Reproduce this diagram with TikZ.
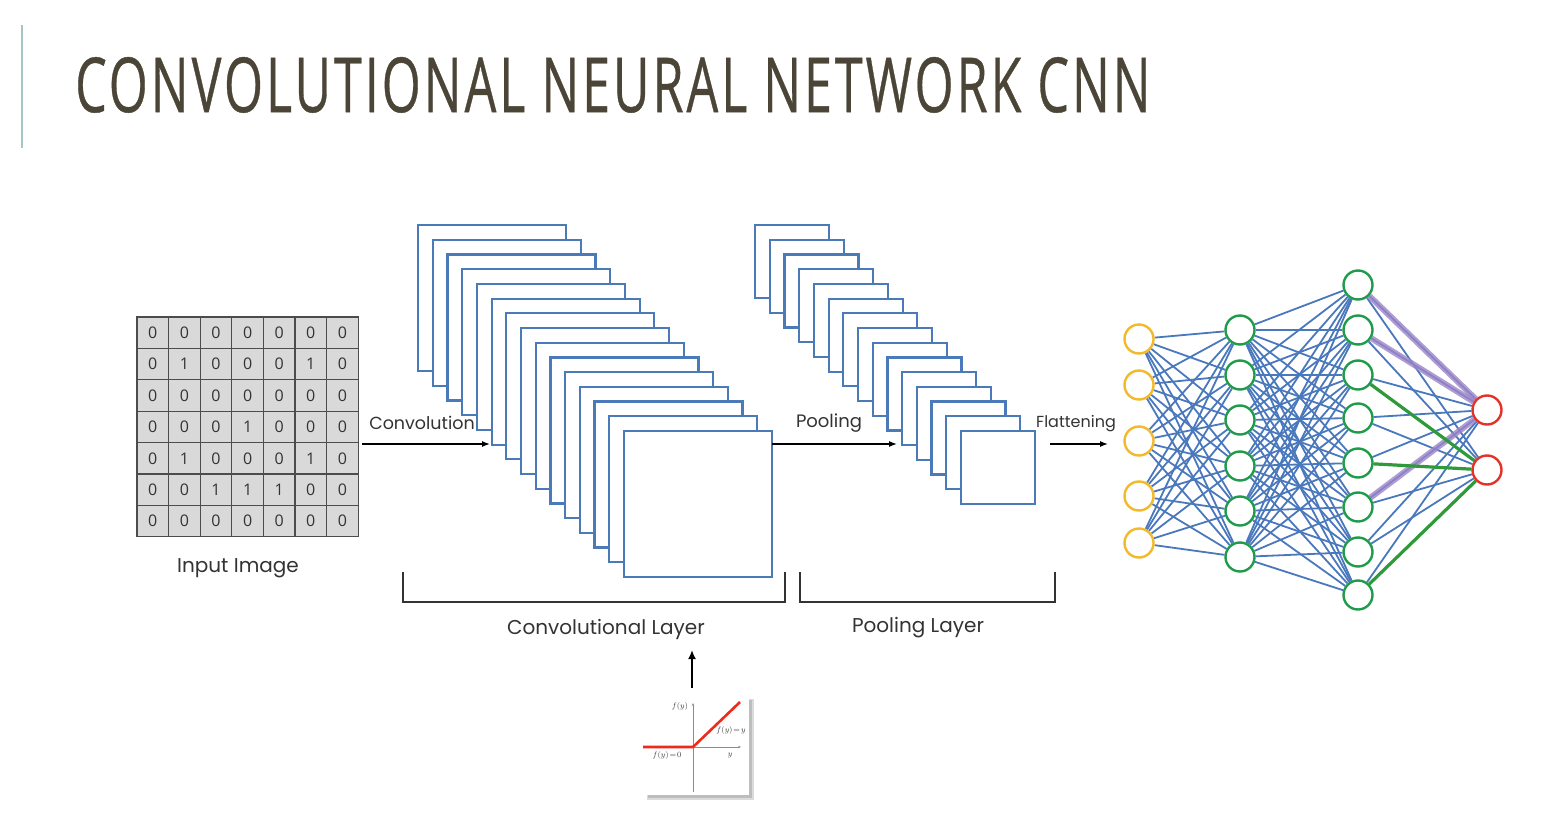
\documentclass[tikz,border=0pt]{standalone}
\usepackage{graphicx}
\usepackage{fontspec}
\setmainfont{Poppins}
\newfontfamily\titlefont[LetterSpace=6,FakeBold=0.6]{Open Sans}
\newfontfamily\digitfont{Open Sans}
\usetikzlibrary{arrows.meta}
\definecolor{titlecol}{HTML}{4A4536}
\definecolor{barcol}{HTML}{A7C4C8}
\definecolor{fmblue}{HTML}{4A7AB8}
\definecolor{edgeblue}{HTML}{4A78BC}
\definecolor{nyellow}{HTML}{F2B92A}
\definecolor{ngreen}{HTML}{1F9B4B}
\definecolor{nred}{HTML}{E53228}
\definecolor{epurple}{HTML}{9C84C9}
\definecolor{egreen}{HTML}{2E9A3A}
\definecolor{cellgray}{HTML}{D9D9D9}
\definecolor{txt}{HTML}{333333}
\definecolor{relured}{HTML}{EE2A1C}
\pgfdeclarelayer{bg}
\pgfsetlayers{bg,main}
\tikzset{
  cell/.style={draw=black!70, fill=cellgray, line width=1.2pt, minimum width=31.6pt, minimum height=31.4pt, inner sep=0pt, font=\digitfont\fontsize{16}{16}\selectfont, text=txt},
  fmap/.style={draw=fmblue, fill=white, line width=2.2pt, inner sep=0pt, anchor=north west},
  lbl/.style={text=txt, inner sep=0pt},
  arr/.style={line width=1.3pt, -{Latex[length=8pt,width=6pt]}},
  bracket/.style={line width=1.5pt, draw=black!80},
  neuron/.style={circle, fill=white, line width=2.4pt, minimum size=29pt, inner sep=0pt},
  inn/.style={neuron, draw=nyellow},
  hid/.style={neuron, draw=ngreen},
  outn/.style={neuron, draw=nred},
  edge/.style={draw=edgeblue, line width=1.8pt},
  pedge/.style={draw=epurple, line width=6pt, opacity=0.8},
  gedge/.style={draw=egreen, line width=3.2pt},
  small/.style={inner sep=0pt, font=\fontsize{8.5}{8.5}\selectfont, text=black!75}
}
\begin{document}
\begin{tikzpicture}[x=1pt,y=-1pt]
\useasboundingbox (0,0) rectangle (1555,819);
\begin{pgfonlayer}{bg}
\fill[white] (0,0) rectangle (1555,819);
\end{pgfonlayer}

% title
\draw[barcol, line width=2pt] (22,25) -- (22,148);
\node[anchor=south west, inner sep=0pt, text=titlecol] (title) at (75,113)
  {\resizebox{1075pt}{55pt}{\titlefont CONVOLUTIONAL NEURAL NETWORK CNN}};

% input grid
\foreach \row [count=\i from 0] in {{0,0,0,0,0,0,0},{0,1,0,0,0,1,0},{0,0,0,0,0,0,0},{0,0,0,1,0,0,0},{0,1,0,0,0,1,0},{0,0,1,1,1,0,0},{0,0,0,0,0,0,0}}{
  \foreach \v [count=\j from 0] in \row {
    \node[cell] (g\i\j) at ({152.8+31.6*\j},{332.7+31.4*\i}) {\v};
  }
}
\node[lbl, font=\fontsize{20}{20}\selectfont] (inlbl) at (238,568) {Input Image};

% convolution feature maps
\foreach \k in {0,...,14}{
  \node[fmap, minimum width=148pt, minimum height=146pt] (cv\k) at ({417+14.7*\k},{224+14.7*\k}) {};
}
% pooling feature maps
\foreach \k in {0,...,14}{
  \node[fmap, minimum width=74pt, minimum height=73pt] (pl\k) at ({754+14.7*\k},{224+14.7*\k}) {};
}

% arrows between stages
\coordinate (convA) at (362,444);
\coordinate (convB) at (490,444);
\draw[arr] (convA) -- (convB);
\node[lbl, font=\fontsize{17.5}{17.5}\selectfont] (convlbl) at (422,423) {Convolution};
\coordinate (poolA) at (772,444);
\coordinate (poolB) at (897,444);
\draw[arr] (poolA) -- (poolB);
\node[lbl, font=\fontsize{18}{18}\selectfont] (poollbl) at (829,423) {Pooling};
\coordinate (flatA) at (1050,444);
\coordinate (flatB) at (1108,444);
\draw[arr] (flatA) -- (flatB);
\node[lbl, font=\fontsize{16}{16}\selectfont] (flatlbl) at (1076,424) {Flattening};

% brackets
\draw[bracket] (403,572) |- (785,602) -- (785,572);
\draw[bracket] (800,572) |- (1055,602) -- (1055,572);
\node[lbl, font=\fontsize{20}{20}\selectfont] (convlayer) at (606,629) {Convolutional Layer};
\node[lbl, font=\fontsize{20}{20}\selectfont] (poollayer) at (918,628) {Pooling Layer};

% ReLU picture
\fill[black!14] (647,699) rectangle (754,800);
\fill[black!26] (648,700) rectangle (752,798);
\node[fill=white, minimum width=105pt, minimum height=98pt, inner sep=0pt, anchor=north west] (relubox) at (644,697) {};
\draw[black!45, line width=0.6pt, -{Stealth[length=3pt,width=2.5pt]}] (693,792) -- (693,703);
\draw[black!45, line width=0.6pt, -{Stealth[length=3pt,width=2.5pt]}] (660,747) -- (741,747);
\draw[relured, line width=2.6pt] (643,747) -- (693,747) -- (740,702);
\node[small] (fy) at (680,706) {$f(y)$};
\node[small] (fyy) at (731,730) {$f(y)\!=\!y$};
\node[small] (fy0) at (667,755) {$f(y)\!=\!0$};
\node[small] (yax) at (730,756) {$y$};
\coordinate (reluA) at (692,688);
\coordinate (reluB) at (692,650);
\draw[line width=2pt, -{Latex[length=9pt,width=8pt]}] (reluA) -- (reluB);

% neural network
\foreach \y [count=\i] in {339,385,441,496,543} \node[inn] (a\i) at (1139,\y) {};
\foreach \y [count=\i] in {330,375,420,466,511,557} \node[hid] (b\i) at (1240,\y) {};
\foreach \y [count=\i] in {285,330,375,418,463,507,552,595} \node[hid] (c\i) at (1358,\y) {};
\foreach \y [count=\i] in {410,470} \node[outn] (d\i) at (1487,\y) {};

\begin{pgfonlayer}{bg}
  \foreach \i in {1,...,5} \foreach \j in {1,...,6} \draw[edge] (a\i) -- (b\j);
  \foreach \i in {1,...,6} \foreach \j in {1,...,8} \draw[edge] (b\i) -- (c\j);
  \foreach \i in {1,...,8} \foreach \j in {1,2} \draw[edge] (c\i) -- (d\j);
  \draw[pedge] (c1) -- (d1);
  \draw[pedge] (c2) -- (d1);
  \draw[pedge] (c6) -- (d1);
  \draw[gedge] (c3) -- (d2);
  \draw[gedge] (c5) -- (d2);
  \draw[gedge] (c8) -- (d2);
\end{pgfonlayer}
\end{tikzpicture}
\end{document}
